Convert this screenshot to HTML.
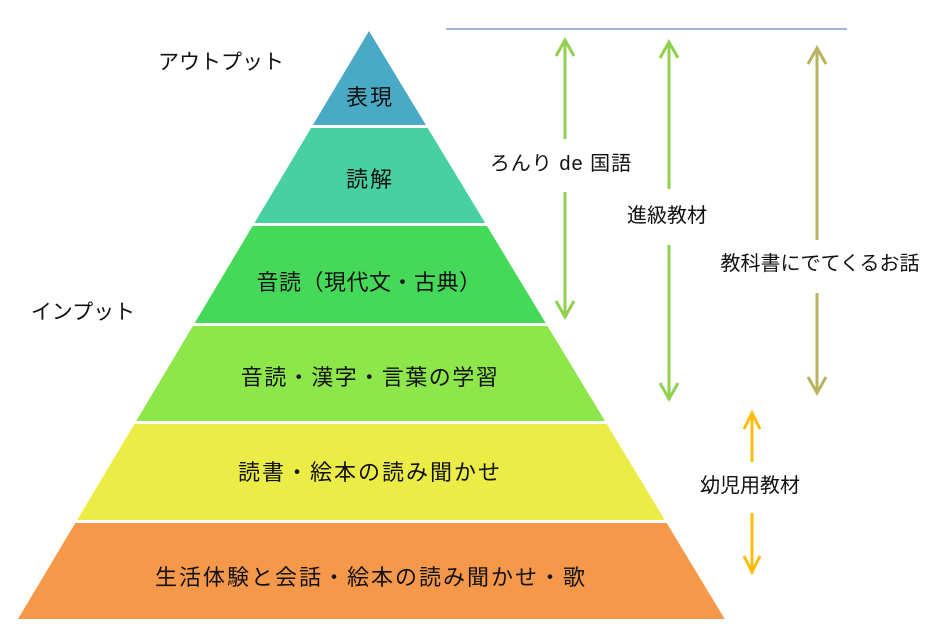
<!DOCTYPE html>
<html><head><meta charset="utf-8">
<style>
html,body{margin:0;padding:0;background:#fff;}
svg{display:block;}
text{font-family:"Liberation Sans","Noto Sans CJK JP",sans-serif;fill:#111;}
</style></head>
<body>
<svg width="940" height="635" viewBox="0 0 940 635" xmlns="http://www.w3.org/2000/svg">
<!-- pyramid bands -->
<polygon points="369,31 425.9,125 312.9,125" fill="#4aa9c4"/>
<polygon points="311.1,128 427.7,128 485.2,223 254.4,223" fill="#48cfa2"/>
<polygon points="252.6,226 487,226 545.7,323 194.7,323" fill="#45d95a"/>
<polygon points="192.9,326 547.5,326 605,421 136.2,421" fill="#8de64a"/>
<polygon points="134.4,424 606.8,424 664.8,520 77.1,520" fill="#ebec46"/>
<polygon points="75.3,523 666.7,523 724.7,619 18,619" fill="#f69849"/>

<!-- pyramid labels -->
<g font-size="22" text-anchor="middle">
<text x="370" y="105" letter-spacing="2">表現</text>
<text x="370" y="187" letter-spacing="2">読解</text>
<text x="369" y="290" letter-spacing="0.5">音読（現代文・古典）</text>
<text x="370" y="385" letter-spacing="1.5">音読・漢字・言葉の学習</text>
<text x="370" y="480" letter-spacing="2">読書・絵本の読み聞かせ</text>
<text x="371" y="585" letter-spacing="2">生活体験と会話・絵本の読み聞かせ・歌</text>
</g>

<!-- side labels -->
<g font-size="21" text-anchor="middle">
<text x="221" y="69">アウトプット</text>
<text x="83" y="319">インプット</text>
</g>

<!-- top line -->
<line x1="446" y1="29" x2="847" y2="29" stroke="#7e9fcf" stroke-width="1.5"/>

<!-- arrows -->
<g fill="none" stroke-width="3" stroke-linecap="butt">
  <g stroke="#8fd14f">
    <line x1="565" y1="41" x2="565" y2="139"/>
    <polyline points="556,56 565,40 574,56"/>
    <line x1="565" y1="192" x2="565" y2="316"/>
    <polyline points="556,301 565,317 574,301"/>

    <line x1="669" y1="42" x2="669" y2="189"/>
    <polyline points="660,58 669,42 678,58"/>
    <line x1="669" y1="245" x2="669" y2="398"/>
    <polyline points="660,383 669,399 678,383"/>
  </g>
  <g stroke="#b8b35e">
    <line x1="817" y1="48" x2="817" y2="240"/>
    <polyline points="808,64 817,48 826,64"/>
    <line x1="817" y1="293" x2="817" y2="392"/>
    <polyline points="808,377 817,393 826,377"/>
  </g>
  <g stroke="#fbbd0a">
    <line x1="752" y1="414" x2="752" y2="462"/>
    <polyline points="744,429 752,413 760,429"/>
    <line x1="752" y1="513" x2="752" y2="571"/>
    <polyline points="744,556 752,572 760,556"/>
  </g>
</g>

<!-- arrow labels -->
<g font-size="20" text-anchor="middle">
<text x="561" y="170" letter-spacing="1">ろんり de 国語</text>
<text x="667" y="222">進級教材</text>
<text x="820" y="270">教科書にでてくるお話</text>
<text x="750" y="492">幼児用教材</text>
</g>
</svg>
</body></html>
